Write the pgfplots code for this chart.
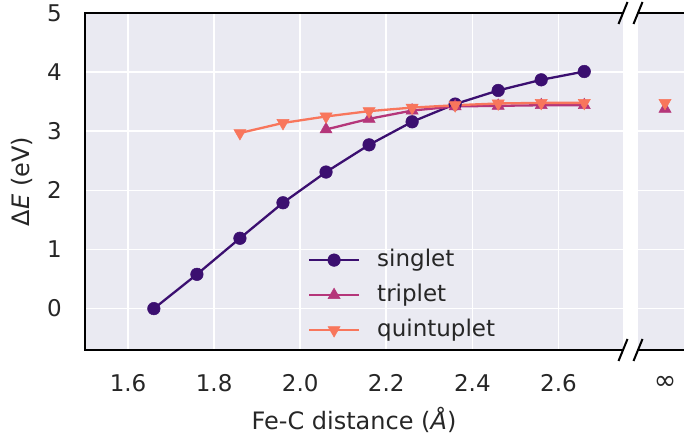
\documentclass[border=0pt]{standalone}
\usepackage{pgfplots}
\pgfplotsset{compat=1.18}
\usepackage{fontspec}
\setmainfont{DejaVu Sans}
\definecolor{bg}{HTML}{EAEAF2}
\definecolor{txt}{HTML}{262626}
\definecolor{cS}{HTML}{3B0F70}
\definecolor{cT}{HTML}{B5367A}
\definecolor{cQ}{HTML}{F8765C}
\newcommand{\fs}{\fontsize{23}{27}\selectfont}
\newcommand{\fl}{\fontsize{24}{28}\selectfont}
\begin{document}
\begin{tikzpicture}
\path[use as bounding box] (-85pt,-89pt) rectangle (599pt,350pt);
\pgfplotsset{
  common/.style={
    scale only axis, height=337pt, ymin=-0.7, ymax=5,
    ytick={0,1,2,3,4,5},
    axis background/.style={fill=bg},
    axis line style={draw=none},
    major tick length=0pt,
    grid style={white, line width=1.6pt},
    ymajorgrids=true,
    tick label style={font=\fs, text=txt},
    /pgf/number format/assume math mode=true,
    clip=false,
    xticklabel style={anchor=center, inner sep=0pt, yshift=-33pt},
    yticklabel style={anchor=east, inner sep=0pt, xshift=-23pt},
  },
  sS/.style={cS, line width=2.3pt, mark=*, mark size=6.3pt, mark options={fill=cS, draw=cS, solid, line width=0.5pt}},
  sT/.style={cT, line width=2.3pt, mark=triangle*, mark size=7pt, mark options={fill=cT, draw=cT, solid, line width=0.5pt}},
  sQ/.style={cQ, line width=2.3pt, mark=triangle*, mark size=7pt, mark options={fill=cQ, draw=cQ, solid, rotate=180, line width=0.5pt}},
}
\begin{axis}[common, width=538pt, xmin=1.5, xmax=2.75,
  xtick={1.6,1.8,2.0,2.2,2.4,2.6},
  xmajorgrids=true,
  xticklabel style={/pgf/number format/.cd, fixed, fixed zerofill, precision=1},
  every axis x label/.style={at={(rel axis cs:0.5,0)}, yshift=-70pt, anchor=center, font=\fl, text=txt},
  every axis y label/.style={at={(rel axis cs:0,0.5)}, xshift=-63pt, rotate=90, anchor=center, font=\fl, text=txt},
  xlabel={Fe-C distance (\textit{Å})},
  ylabel={Δ\textit{E} (eV)},
  legend cell align=left,
  legend image code/.code={\draw[mark repeat=2, mark phase=2, #1] plot coordinates {(0pt,0pt) (25pt,0pt) (50pt,0pt)};},
  legend style={draw=none, fill=none, font=\fs, text=txt, at={(0.414,0.30)}, anchor=north west,
    inner sep=0pt, row sep=13pt, column sep=0pt,
    nodes={inner sep=0pt, text height=17pt, text depth=5pt},
    /tikz/every odd column/.append style={column sep=17pt}},
]
\addplot[sS] coordinates {
 (1.66,0.00) (1.76,0.58) (1.86,1.19) (1.96,1.79) (2.06,2.31) (2.16,2.77)
 (2.26,3.16) (2.36,3.46) (2.46,3.69) (2.56,3.87) (2.66,4.01)};
\addlegendentry{singlet}
\addplot[sT] coordinates {
 (2.06,3.03) (2.16,3.21) (2.26,3.35) (2.36,3.42) (2.46,3.43) (2.56,3.44) (2.66,3.44)};
\addlegendentry{triplet}
\addplot[sQ] coordinates {
 (1.86,2.97) (1.96,3.14) (2.06,3.25) (2.16,3.34) (2.26,3.40) (2.36,3.44) (2.46,3.47) (2.56,3.48) (2.66,3.48)};
\addlegendentry{quintuplet}
\draw[black, line width=2pt] (rel axis cs:1,1) -- (rel axis cs:0,1) -- (rel axis cs:0,0) -- (rel axis cs:1,0);
\draw[black, line width=2pt] (rel axis cs:1,1) ++(-4.5pt,-11pt) -- ++(9pt,22pt);
\draw[black, line width=2pt] (rel axis cs:1,0) ++(-4.5pt,-11pt) -- ++(9pt,22pt);
\end{axis}
\begin{axis}[common, at={(553pt,0pt)}, width=50pt, xmin=0, xmax=1,
  xtick={0.54}, xticklabels={\fontsize{27}{27}\selectfont ∞}, yticklabels={}, xmajorgrids=false]
\addplot[sT, only marks] coordinates {(0.54,3.38)};
\addplot[sQ, only marks] coordinates {(0.54,3.48)};
\draw[black, line width=2pt] (rel axis cs:0,1) -- (rel axis cs:1,1);
\draw[black, line width=2pt] (rel axis cs:0,0) -- (rel axis cs:1,0);
\draw[black, line width=2pt] (rel axis cs:0,1) ++(-4.5pt,-11pt) -- ++(9pt,22pt);
\draw[black, line width=2pt] (rel axis cs:0,0) ++(-4.5pt,-11pt) -- ++(9pt,22pt);
\end{axis}
\end{tikzpicture}
\end{document}
